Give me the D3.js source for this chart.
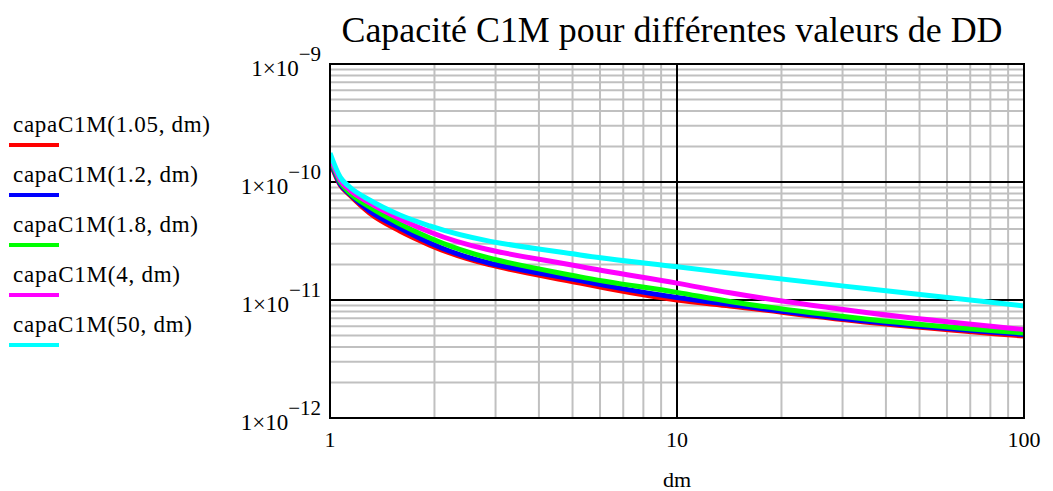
<!DOCTYPE html>
<html>
<head>
<meta charset="utf-8">
<script src="https://cdn.jsdelivr.net/npm/d3@7"></script>
<style>
  html, body { margin: 0; padding: 0; background: #fff; }
  svg { display: block; }
  text { font-family: "Liberation Serif", "Times New Roman", serif; fill: #000; }
</style>
</head>
<body>
<svg id="chart" width="1053" height="491"></svg>
<script>
// ---- data ----
const title = "Capacité C1M pour différentes valeurs de DD";
const xLabel = "dm";
const dm = [1.0, 1.07, 1.14, 1.3, 1.59, 1.94, 5.26, 10, 14.2, 36, 100];
const seriesNames = ["capaC1M(1.05, dm)", "capaC1M(1.2, dm)", "capaC1M(1.8, dm)", "capaC1M(4, dm)", "capaC1M(50, dm)"];
const seriesColors = ["#ff0000", "#0000ff", "#00ff00", "#ff00ff", "#00ffff"];
const capa105 = [1.48e-10, 9.43e-11, 7.76e-11, 5.46e-11, 3.84e-11, 2.92e-11, 1.39e-11, 1.00e-11, 8.90e-12, 6.45e-12, 4.95e-12];
const capa12  = [1.54e-10, 9.62e-11, 7.91e-11, 5.68e-11, 4.07e-11, 3.04e-11, 1.46e-11, 1.05e-11, 9.16e-12, 6.57e-12, 5.10e-12];
const capa18  = [1.60e-10, 1.00e-10, 8.07e-11, 6.14e-11, 4.41e-11, 3.35e-11, 1.57e-11, 1.16e-11, 9.71e-12, 6.83e-12, 5.25e-12];
const capa4   = [1.66e-10, 1.04e-10, 8.56e-11, 6.64e-11, 4.86e-11, 3.77e-11, 1.92e-11, 1.39e-11, 1.15e-11, 7.76e-12, 5.62e-12];
const capa50  = [1.76e-10, 1.10e-10, 9.07e-11, 7.04e-11, 5.25e-11, 4.24e-11, 2.41e-11, 1.91e-11, 1.69e-11, 1.24e-11, 8.90e-12];
const seriesValues = [capa105, capa12, capa18, capa4, capa50];
const xTicks = [1, 10, 100];
const yTicks = [1e-12, 1e-11, 1e-10, 1e-9];
const yTickExp = ["−12", "−11", "−10", "−9"];

// ---- layout ----
const svg = d3.select("#chart");
const plot = { left: 330, right: 1024, top: 64, bottom: 418 };
const x = d3.scaleLog().domain([1, 100]).range([plot.left, plot.right]);
const y = d3.scaleLog().domain([1e-12, 1e-9]).range([plot.bottom, plot.top]);

svg.append("rect").attr("width", 1053).attr("height", 491).attr("fill", "#fff");

// minor grid
const xMinor = [];
for (let d = 1; d < 100; d *= 10) for (let k = 2; k <= 9; k++) xMinor.push(d * k);
const yMinor = [];
for (let d = 1e-12; d < 1e-9 * 0.99; d *= 10) for (let k = 2; k <= 9; k++) yMinor.push(d * k);

const grid = svg.append("g");
grid.selectAll("line.xm").data(xMinor).join("line")
  .attr("x1", d => x(d)).attr("x2", d => x(d))
  .attr("y1", plot.top).attr("y2", plot.bottom)
  .attr("stroke", "#c0c0c0").attr("stroke-width", 2);
grid.selectAll("line.ym").data(yMinor).join("line")
  .attr("y1", d => y(d)).attr("y2", d => y(d))
  .attr("x1", plot.left).attr("x2", plot.right)
  .attr("stroke", "#c0c0c0").attr("stroke-width", 2);
// major grid
grid.selectAll("line.xM").data([10]).join("line")
  .attr("x1", d => x(d)).attr("x2", d => x(d))
  .attr("y1", plot.top).attr("y2", plot.bottom)
  .attr("stroke", "#000").attr("stroke-width", 2);
grid.selectAll("line.yM").data([1e-11, 1e-10]).join("line")
  .attr("y1", d => y(d)).attr("y2", d => y(d))
  .attr("x1", plot.left).attr("x2", plot.right)
  .attr("stroke", "#000").attr("stroke-width", 2);

// curves
svg.append("clipPath").attr("id", "clip").append("rect")
  .attr("x", plot.left).attr("y", plot.top)
  .attr("width", plot.right - plot.left).attr("height", plot.bottom - plot.top);
const line = d3.line().x(d => x(d[0])).y(d => y(d[1])).curve(d3.curveMonotoneX);
const curves = svg.append("g").attr("clip-path", "url(#clip)");
seriesValues.forEach((vals, i) => {
  curves.append("path")
    .attr("d", line(dm.map((v, j) => [v, vals[j]])))
    .attr("fill", "none")
    .attr("stroke", seriesColors[i])
    .attr("stroke-width", 5)
    .attr("stroke-linejoin", "round");
});

// frame
svg.append("rect")
  .attr("x", plot.left).attr("y", plot.top)
  .attr("width", plot.right - plot.left).attr("height", plot.bottom - plot.top)
  .attr("fill", "none").attr("stroke", "#000").attr("stroke-width", 2);

// x tick labels
svg.selectAll("text.xt").data(xTicks).join("text")
  .attr("x", d => x(d)).attr("y", 447)
  .attr("text-anchor", "middle").attr("font-size", 22)
  .text(d => d);
svg.append("text").attr("x", x(10)).attr("y", 487)
  .attr("text-anchor", "middle").attr("font-size", 22).text(xLabel);

// y tick labels
const yt = svg.selectAll("text.yt").data(yTicks).join("text")
  .attr("x", 321).attr("y", d => y(d) + 12)
  .attr("text-anchor", "end").attr("font-size", 23);
yt.append("tspan").text("1×10");
yt.append("tspan").attr("dy", -15).attr("font-size", 21).text((d, i) => yTickExp[i]);

// title
svg.append("text").attr("x", 672).attr("y", 42)
  .attr("text-anchor", "middle").attr("font-size", 36)
  .attr("textLength", 661).attr("lengthAdjust", "spacingAndGlyphs").text(title);

// legend
const legendWidths = [197, 185, 185, 167, 179];
const leg = svg.append("g");
seriesNames.forEach((name, i) => {
  const by = 132 + i * 50;
  leg.append("text").attr("x", 13).attr("y", by).attr("font-size", 23)
    .attr("textLength", legendWidths[i]).attr("lengthAdjust", "spacing").text(name);
  leg.append("line").attr("x1", 9).attr("x2", 59).attr("y1", by + 13).attr("y2", by + 13)
    .attr("stroke", seriesColors[i]).attr("stroke-width", 4);
});
</script>
</body>
</html>
